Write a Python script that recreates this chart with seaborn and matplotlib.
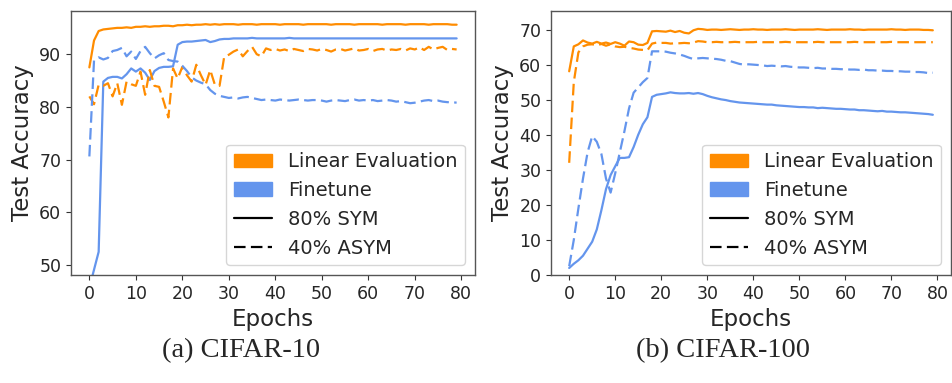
import numpy as np
import pandas as pd
import matplotlib
matplotlib.use("Agg")
import matplotlib.pyplot as plt
import seaborn as sns
from matplotlib.patches import Patch
from matplotlib.lines import Line2D

epochs = list(range(80))

# CIFAR-10
c10_linear_sym = [87.5, 92.6, 94.4, 94.7, 94.8, 94.9, 95.0, 95.0, 95.1, 95.0,
                  95.2, 95.2, 95.3, 95.2, 95.3, 95.3, 95.4, 95.4, 95.3, 95.5,
                  95.5, 95.6, 95.5, 95.6, 95.6, 95.7, 95.6, 95.7, 95.6, 95.7,
                  95.7, 95.7, 95.6, 95.7, 95.7, 95.7, 95.6, 95.7, 95.7, 95.7,
                  95.7, 95.6, 95.7, 95.7, 95.7, 95.7, 95.6, 95.7, 95.7, 95.7,
                  95.7, 95.7, 95.6, 95.7, 95.7, 95.7, 95.7, 95.6, 95.7, 95.7,
                  95.7, 95.7, 95.7, 95.6, 95.7, 95.7, 95.7, 95.7, 95.6, 95.7,
                  95.7, 95.7, 95.7, 95.6, 95.7, 95.7, 95.7, 95.7, 95.6, 95.6]
c10_finetune_sym = [45.7, 49.1, 52.5, 84.8, 85.5, 85.7, 85.7, 85.4, 86.2, 87.3,
                    86.7, 87.3, 86.5, 85.1, 86.8, 87.4, 87.6, 87.6, 87.7, 91.8,
                    92.3, 92.4, 92.4, 92.5, 92.6, 92.7, 92.3, 92.5, 92.8, 92.9,
                    92.9, 93.0, 93.0, 93.0, 93.0, 93.1, 93.0, 93.0, 93.0, 93.0,
                    93.0, 93.0, 93.0, 93.1, 93.0, 93.0, 93.0, 93.0, 93.0, 93.0,
                    93.0, 93.0, 93.0, 93.0, 93.0, 93.0, 93.0, 93.0, 93.0, 93.0,
                    93.0, 93.0, 93.0, 93.0, 93.0, 93.0, 93.0, 93.0, 93.0, 93.0,
                    93.0, 93.0, 93.0, 93.0, 93.0, 93.0, 93.0, 93.0, 93.0, 93.0]
c10_linear_asym = [82.0, 80.5, 84.2, 84.0, 84.5, 82.0, 84.5, 80.4, 84.8, 84.3,
                   84.0, 86.7, 82.3, 87.0, 84.0, 83.8, 81.0, 78.0, 87.3, 85.4,
                   87.6, 86.0, 84.8, 88.0, 86.0, 84.2, 87.0, 84.2, 84.0, 89.5,
                   89.9, 90.5, 90.9, 89.6, 90.6, 91.4, 90.0, 89.6, 91.1, 90.8,
                   91.0, 90.7, 90.9, 90.6, 91.0, 90.8, 90.6, 91.0, 90.9, 90.7,
                   91.0, 90.8, 90.5, 90.9, 91.0, 90.7, 90.9, 91.1, 90.7, 90.8,
                   91.0, 90.6, 90.9, 91.0, 90.7, 90.9, 90.8, 91.0, 90.7, 91.1,
                   90.9, 91.3, 90.8, 91.4, 90.9, 91.2, 91.4, 90.8, 91.0, 90.9]
c10_finetune_asym = [70.6, 88.8, 89.4, 89.0, 89.3, 90.6, 90.8, 91.2, 89.6, 90.5,
                     89.1, 90.6, 91.4, 90.2, 89.2, 89.8, 90.2, 88.9, 88.7, 88.6,
                     87.8, 86.8, 85.6, 85.0, 84.6, 84.3, 83.2, 82.5, 82.1, 81.9,
                     81.7, 81.8, 81.6, 81.8, 81.9, 81.7, 81.5, 81.3, 81.4, 81.3,
                     81.2, 81.4, 81.3, 81.2, 81.3, 81.4, 81.3, 81.2, 81.3, 81.3,
                     81.2, 81.0, 81.2, 81.3, 81.2, 81.1, 81.3, 81.4, 81.2, 81.3,
                     81.2, 81.3, 81.1, 81.2, 81.3, 81.2, 81.0, 81.1, 80.9, 80.7,
                     80.8, 81.0, 81.2, 81.3, 81.1, 81.2, 81.0, 80.9, 80.9, 80.8]

# CIFAR-100
c100_linear_sym = [58.1, 65.2, 65.8, 66.9, 66.3, 66.0, 66.5, 66.0, 66.3, 65.9,
                   66.4, 66.0, 65.4, 66.6, 66.4, 65.7, 65.6, 66.2, 69.5, 69.6,
                   69.5, 69.4, 69.7, 69.3, 69.6, 69.1, 68.9, 69.8, 70.2, 70.1,
                   69.9, 70.0, 70.0, 69.9, 70.0, 70.1, 70.0, 69.9, 70.0, 70.0,
                   70.1, 70.0, 70.0, 69.9, 70.0, 70.0, 70.0, 70.1, 70.0, 69.9,
                   70.0, 70.0, 70.0, 70.0, 70.1, 70.0, 69.9, 70.0, 70.0, 70.0,
                   70.0, 70.1, 70.0, 70.0, 69.9, 70.0, 70.0, 70.0, 70.0, 70.0,
                   70.1, 70.0, 70.0, 69.9, 70.0, 70.0, 70.0, 69.9, 69.9, 69.8]
c100_finetune_sym = [2.0, 3.2, 4.2, 5.5, 7.5, 9.5, 13.0, 18.5, 24.5, 28.5,
                     31.0, 33.4, 33.4, 33.6, 36.5, 40.0, 43.0, 45.0, 50.8, 51.4,
                     51.6, 51.8, 52.1, 51.9, 51.8, 51.8, 51.9, 51.7, 51.9, 51.6,
                     51.1, 50.7, 50.4, 50.1, 49.9, 49.6, 49.4, 49.2, 49.1, 49.0,
                     48.9, 48.8, 48.7, 48.6, 48.6, 48.4, 48.3, 48.2, 48.1, 48.0,
                     47.9, 47.9, 47.8, 47.8, 47.6, 47.7, 47.6, 47.5, 47.4, 47.4,
                     47.3, 47.2, 47.2, 47.0, 47.0, 46.9, 46.8, 46.7, 46.8, 46.6,
                     46.6, 46.5, 46.4, 46.4, 46.3, 46.2, 46.1, 46.0, 45.9, 45.7]
c100_linear_asym = [32.0, 55.0, 63.5, 65.2, 65.7, 65.8, 65.5, 65.9, 65.4, 65.8,
                    65.2, 65.0, 65.1, 64.8, 64.6, 64.3, 64.2, 64.1, 66.0, 66.3,
                    66.2, 66.2, 66.0, 66.1, 66.1, 66.2, 66.1, 66.3, 66.7, 66.6,
                    66.4, 66.4, 66.5, 66.4, 66.4, 66.4, 66.5, 66.4, 66.4, 66.4,
                    66.4, 66.5, 66.4, 66.4, 66.4, 66.4, 66.4, 66.5, 66.4, 66.4,
                    66.4, 66.4, 66.4, 66.4, 66.5, 66.4, 66.4, 66.4, 66.4, 66.4,
                    66.4, 66.4, 66.5, 66.4, 66.4, 66.4, 66.4, 66.4, 66.4, 66.4,
                    66.5, 66.4, 66.4, 66.4, 66.4, 66.4, 66.4, 66.4, 66.4, 66.4]
c100_finetune_asym = [2.5, 10.0, 19.0, 27.5, 35.0, 39.6, 38.0, 34.5, 27.5, 23.5,
                      29.0, 35.0, 41.0, 47.5, 52.0, 53.5, 55.0, 56.2, 63.8, 63.8,
                      63.8, 63.7, 63.4, 63.2, 62.9, 62.5, 62.0, 61.6, 61.8, 61.9,
                      61.8, 61.7, 61.6, 61.4, 61.1, 61.0, 60.6, 60.2, 60.0, 60.1,
                      60.0, 59.9, 59.8, 59.6, 59.7, 59.6, 59.5, 59.6, 59.4, 59.3,
                      59.2, 59.2, 59.1, 59.0, 59.1, 58.9, 58.9, 58.8, 58.8, 58.7,
                      58.7, 58.6, 58.6, 58.5, 58.6, 58.4, 58.4, 58.3, 58.3, 58.2,
                      58.2, 58.1, 58.1, 58.0, 58.0, 57.9, 57.9, 57.8, 57.6, 57.7]

x_ticks = [0, 10, 20, 30, 40, 50, 60, 70, 80]
c10_yticks = [50, 60, 70, 80, 90]
c100_yticks = [0, 10, 20, 30, 40, 50, 60, 70]
captions = ["(a) CIFAR-10", "(b) CIFAR-100"]
method_labels = ["Linear Evaluation", "Finetune"]
noise_labels = ["80% SYM", "40% ASYM"]

ORANGE = "#FF8C00"
BLUE = "#6495ED"
DASH = (0, (5.2, 2.4))

sns.set_style("ticks")
plt.rcParams['font.family'] = ['DejaVu Sans']

fig = plt.figure(figsize=(9.53, 3.83), dpi=100)
ax1 = fig.add_axes([71/953, 108/383, 404/953, 264/383])
ax2 = fig.add_axes([551/953, 108/383, 400/953, 264/383])

panels = [
    (ax1, [c10_linear_sym, c10_finetune_sym, c10_linear_asym, c10_finetune_asym], c10_yticks, (48.1, 98.2)),
    (ax2, [c100_linear_sym, c100_finetune_sym, c100_linear_asym, c100_finetune_asym], c100_yticks, (0, 75.3)),
]

for ax, series, yt, ylim in panels:
    styles = [(ORANGE, "-"), (BLUE, "-"), (ORANGE, DASH), (BLUE, DASH)]
    for vals, (col, ls) in zip(series, styles):
        df = pd.DataFrame({"Epochs": epochs, "acc": vals})
        sns.lineplot(data=df, x="Epochs", y="acc", ax=ax, color=col,
                     linestyle=ls, linewidth=1.6)
    ax.set_xticks(x_ticks)
    ax.set_yticks(yt)
    ax.set_xlim(-3.95, 82.95)
    ax.set_ylim(*ylim)
    ax.tick_params(labelsize=12.5, length=3.5, width=0.8, color="#333333")
    ax.set_xlabel("Epochs", fontsize=16.5)
    ax.set_ylabel("Test Accuracy", fontsize=16.5)
    for s in ax.spines.values():
        s.set_color("#555555")
        s.set_linewidth(1.0)
    handles = [Patch(facecolor=ORANGE, edgecolor=ORANGE, label=method_labels[0]),
               Patch(facecolor=BLUE, edgecolor=BLUE, label=method_labels[1]),
               Line2D([], [], color="black", linestyle="-", linewidth=1.6, label=noise_labels[0]),
               Line2D([], [], color="black", linestyle=DASH, linewidth=1.6, label=noise_labels[1])]
    ax.legend(handles=handles, loc="lower right", fontsize=14, frameon=True)

fig.text(241/953, 1 - 351/383, captions[0], ha="center", va="center",
         family=["Liberation Serif"], fontsize=20.5)
fig.text(723/953, 1 - 351/383, captions[1], ha="center", va="center",
         family=["Liberation Serif"], fontsize=20.5)

fig.savefig("out.png", dpi=100)
